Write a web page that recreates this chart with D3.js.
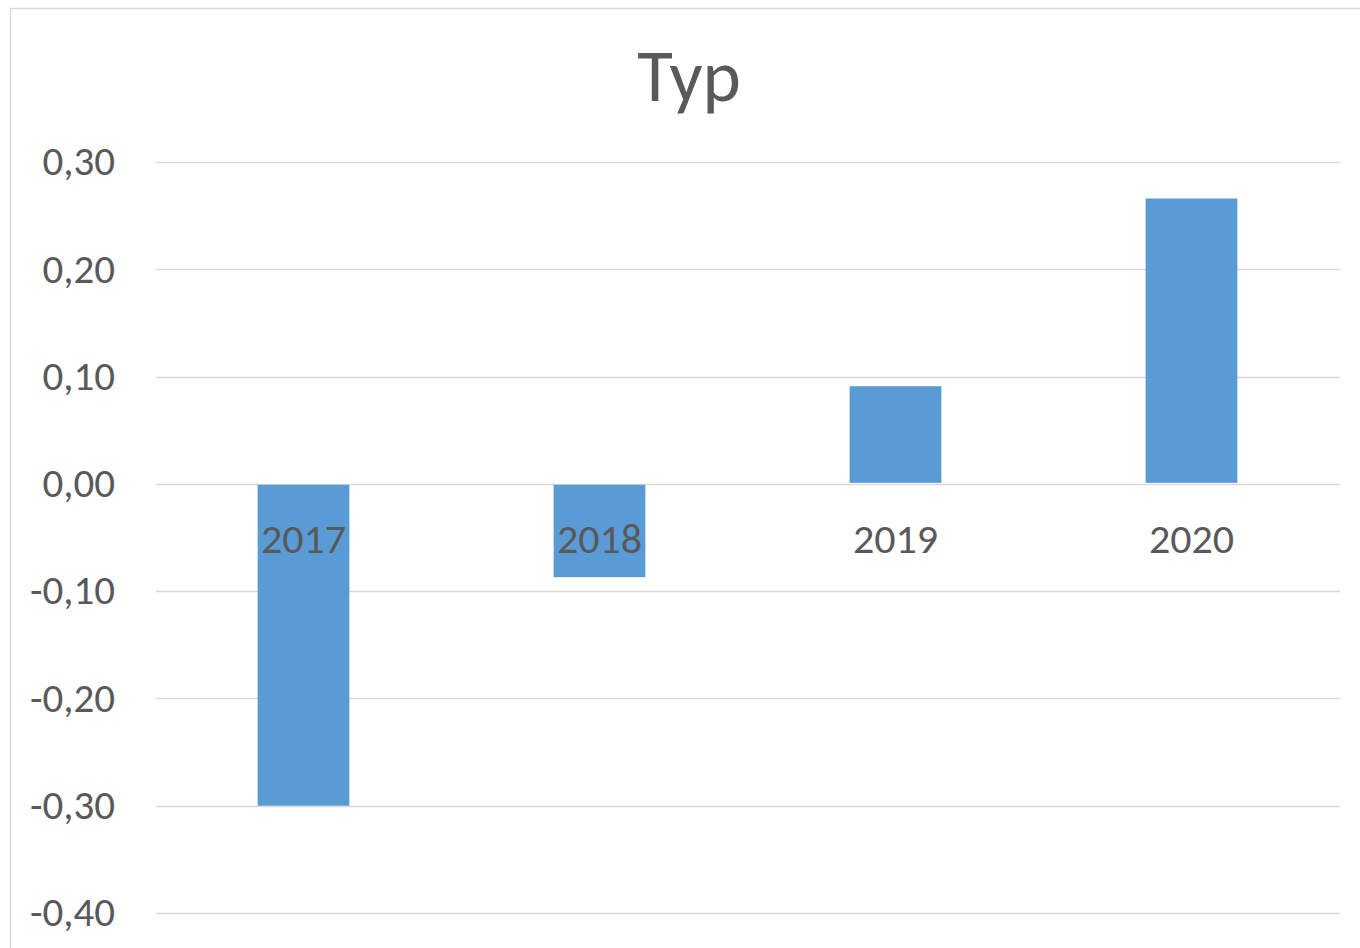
<!DOCTYPE html>
<html>
<head>
<meta charset="utf-8">
<script src="https://cdn.jsdelivr.net/npm/d3@7"></script>
<style>
  body { margin: 0; background: #fff; }
  text { font-family: Calibri, Carlito, Lato, sans-serif; fill: #595959; }
</style>
</head>
<body>
<svg id="chart"></svg>
<script>
// values
var years = ["2017", "2018", "2019", "2020"]
var values = [-0.30, -0.087, 0.091, 0.266]
var yTicks = [0.30, 0.20, 0.10, 0.00, -0.10, -0.20, -0.30, -0.40]
var title = "Typ"

var W = 1360, H = 948
var svg = d3.select("#chart").attr("width", W).attr("height", H)

// chart frame
svg.append("rect")
    .attr("x", 10.5).attr("y", 8.5)
    .attr("width", 1360).attr("height", 960)
    .attr("fill", "none").attr("stroke", "#d9d9d9").attr("stroke-width", 1.5)

var left = 156, right = 1340
var x = d3.scaleBand().domain(years).range([left - 0.5, right - 0.5]).paddingInner(0.69).paddingOuter(0.345)
var y = d3.scaleLinear().domain([-0.40, 0.30]).range([913, 162])

var fmt = function(d){ return d3.format(".2f")(d).replace(".", ",").replace("−", "-") }

// grid
svg.append("g").selectAll("line").data(yTicks).enter().append("line")
    .attr("x1", left).attr("x2", right)
    .attr("y1", d => Math.round(y(d)) + 0.5).attr("y2", d => Math.round(y(d)) + 0.5)
    .attr("stroke", "#d9d9d9").attr("stroke-width", 1.5)

// y tick labels
svg.append("g").selectAll("text").data(yTicks).enter().append("text")
    .attr("x", 115)
    .attr("y", d => y(d) - 1)
    .attr("dy", "0.35em")
    .attr("text-anchor", "end")
    .attr("font-size", "41px")
    .text(d => fmt(d))

// bars
svg.append("g").selectAll("rect").data(values).enter().append("rect")
    .attr("x", (d, i) => x(years[i]))
    .attr("width", x.bandwidth())
    .attr("y", d => d >= 0 ? y(d) : y(0) + 1)
    .attr("height", d => Math.abs(y(d) - y(0)) - 1)
    .attr("fill", "#5b9bd5")

// category labels sit just below zero line
svg.append("g").selectAll("text").data(years).enter().append("text")
    .attr("x", d => x(d) + x.bandwidth() / 2)
    .attr("y", y(0) + 69)
    .attr("text-anchor", "middle")
    .attr("font-size", "42px")
    .text(d => d)

// title
svg.append("text")
    .attr("x", 689).attr("y", 101)
    .attr("text-anchor", "middle")
    .attr("font-size", "73px")
    .text(title)
</script>
</body>
</html>
